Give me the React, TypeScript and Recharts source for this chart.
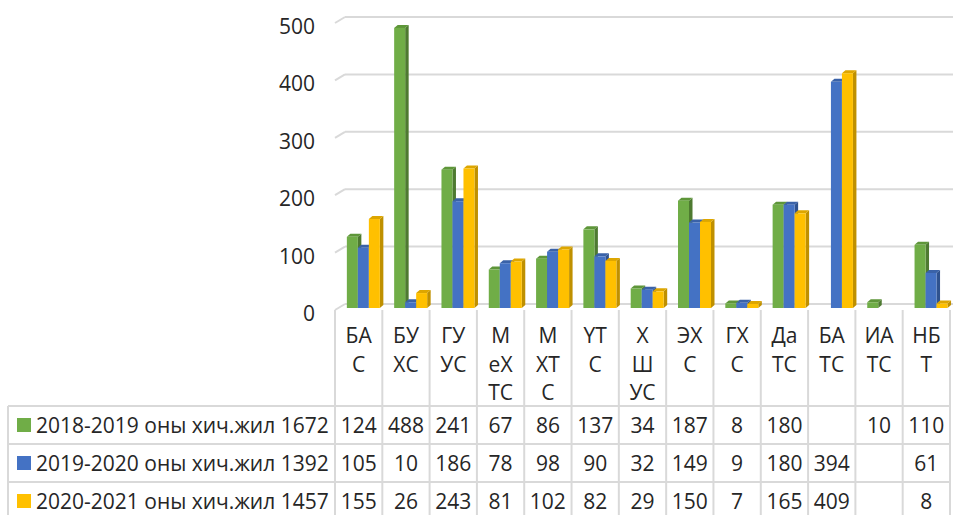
import { BarChart, Bar, XAxis, YAxis, CartesianGrid } from 'recharts'

const categories = ['БАС', 'БУХС', 'ГУУС', 'МеХТС', 'МХТС', 'ҮТС', 'ХШУС', 'ЭХС', 'ГХС', 'ДаТС', 'БАТС', 'ИАТС', 'НБТ']
// how the narrow table header wraps each name
const categoryLines = [
  ['БА', 'С'], ['БУ', 'ХС'], ['ГУ', 'УС'], ['М', 'еХ', 'ТС'], ['М', 'ХТ', 'С'], ['ҮТ', 'С'],
  ['Х', 'Ш', 'УС'], ['ЭХ', 'С'], ['ГХ', 'С'], ['Да', 'ТС'], ['БА', 'ТС'], ['ИА', 'ТС'], ['НБ', 'Т'],
]
const y2019 = [124, 488, 241, 67, 86, 137, 34, 187, 8, 180, null, 10, 110]
const y2020 = [105, 10, 186, 78, 98, 90, 32, 149, 9, 180, 394, null, 61]
const y2021 = [155, 26, 243, 81, 102, 82, 29, 150, 7, 165, 409, null, 8]
const seriesNames = ['2018-2019 оны хич.жил 1672', '2019-2020 оны хич.жил 1392', '2020-2021 оны хич.жил 1457']
const yTicks = [0, 100, 200, 300, 400, 500]

const colors = ['#70AD47', '#4472C4', '#FFC000']
const sideColors = ['#4E7A31', '#2F528F', '#BF9000']
const topColors = ['#5E9639', '#3A62A8', '#DDA600']

const data = categories.map((name, i) => ({ name, a: y2019[i], b: y2020[i], c: y2021[i] }))
const seriesValues = [y2019, y2020, y2021]

const W = 953
const H = 515
const plotLeft = 335
const plotRight = 950
const plotTop = 21
const plotBottom = 308
const bw = (plotRight - plotLeft) / categories.length
const rowTops = [406, 444, 482, 520]
const font = '"Open Sans", sans-serif'
const fs = 21
const textColor = '#262626'
const lineColor = '#d9d9d9'

function Bar3D(idx: number) {
  return (props: any) => {
    const { x, y, width, height, value } = props
    if (value == null || height == null || height <= 0) return null
    const sx = x + 4
    const d = 3.5
    const dy = 3
    const b = y + height
    return (
      <g>
        <polygon points={`${sx + width},${y} ${sx + width + d},${y - dy} ${sx + width + d},${b - dy} ${sx + width},${b}`} fill={sideColors[idx]} />
        <polygon points={`${sx},${y} ${sx + d},${y - dy} ${sx + width + d},${y - dy} ${sx + width},${y}`} fill={topColors[idx]} />
        <rect x={sx} y={y} width={width} height={height} fill={colors[idx]} />
      </g>
    )
  }
}

function GridLine(props: any) {
  const { x1, x2, y1 } = props
  const by = y1 - 4
  return (
    <g>
      <line x1={x1} y1={by + 6} x2={x1 + 10} y2={by} stroke={lineColor} strokeWidth={2} />
      <line x1={x1 + 10} y1={by} x2={x2 + 3} y2={by} stroke={lineColor} strokeWidth={2} />
    </g>
  )
}

function YTick(props: any) {
  const { x, y, payload } = props
  return (
    <text x={x} y={y + 5} textAnchor="end" dominantBaseline="central" fontFamily={font} fontSize={fs} fill={textColor}>
      {payload.value}
    </text>
  )
}

function XTick(props: any) {
  const { x, payload } = props
  const i = payload.index
  const lines = categoryLines[i]
  const left = x - bw / 2
  return (
    <g>
      <line x1={left} y1={310} x2={left} y2={H} stroke={lineColor} strokeWidth={2} />
      {i === categories.length - 1 && (
        <line x1={left + bw} y1={310} x2={left + bw} y2={H} stroke={lineColor} strokeWidth={2} />
      )}
      {lines.map((t, k) => (
        <text key={k} x={x} y={335 + k * 28.5} textAnchor="middle" dominantBaseline="central" fontFamily={font} fontSize={fs} fill={textColor}>
          {t}
        </text>
      ))}
      {seriesValues.map((vals, r) => (
        vals[i] == null ? null : (
          <text key={'v' + r} x={x} y={(rowTops[r] + rowTops[r + 1]) / 2} textAnchor="middle" dominantBaseline="central" fontFamily={font} fontSize={fs} fill={textColor}>
            {vals[i]}
          </text>
        )
      ))}
    </g>
  )
}

export default function App() {
  return (
    <div style={{ position: 'absolute', left: 0, top: 0, width: W, height: H, background: '#fff' }}>
      <BarChart
        width={W}
        height={H}
        data={data}
        margin={{ top: plotTop, right: W - plotRight, bottom: H - plotBottom - 30, left: plotLeft - 60 }}
        barCategoryGap="16.6%"
        barGap={0}
      >
        <CartesianGrid vertical={false} horizontal={GridLine} />
        <XAxis dataKey="name" height={30} tickLine={false} axisLine={false} tickSize={0} tickMargin={0} interval={0} tick={XTick} />
        <YAxis width={60} domain={[0, 500]} ticks={yTicks} tickLine={false} axisLine={false} tickSize={0} tickMargin={20} tick={YTick} />
        <Bar dataKey="a" isAnimationActive={false} shape={Bar3D(0)} />
        <Bar dataKey="b" isAnimationActive={false} shape={Bar3D(1)} />
        <Bar dataKey="c" isAnimationActive={false} shape={Bar3D(2)} />
      </BarChart>
      <svg width={W} height={H} style={{ position: 'absolute', left: 0, top: 0, pointerEvents: 'none' }}>
        {rowTops.slice(0, 3).map((t) => (
          <line key={t} x1={8} y1={t} x2={plotRight} y2={t} stroke={lineColor} strokeWidth={2} />
        ))}
        <line x1={8} y1={rowTops[0]} x2={8} y2={H} stroke={lineColor} strokeWidth={2} />
        {seriesNames.map((n, r) => {
          const cy = (rowTops[r] + rowTops[r + 1]) / 2
          return (
            <g key={n}>
              <rect x={17} y={cy - 7} width={14} height={14} fill={colors[r]} />
              <text x={36} y={cy} dominantBaseline="central" fontFamily={font} fontSize={fs} fill={textColor}>
                {n}
              </text>
            </g>
          )
        })}
      </svg>
    </div>
  )
}
